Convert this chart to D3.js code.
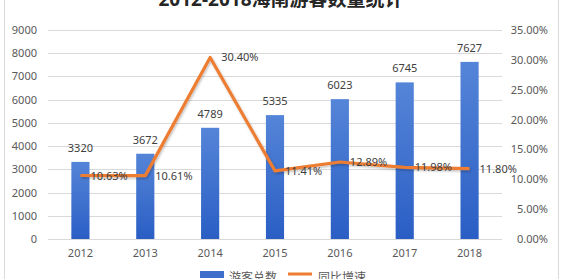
<!DOCTYPE html>
<html><head><meta charset="utf-8">
<script src="https://cdn.jsdelivr.net/npm/d3@7"></script>
<style>body{margin:0;background:#fff}svg{display:block}text{font-family:"Noto Sans","Noto Sans CJK SC",sans-serif}</style>
</head><body><svg id="c" width="567" height="279"></svg>
<script>
const years = ["2012","2013","2014","2015","2016","2017","2018"];
const visitors = [3320,3672,4789,5335,6023,6745,7627];
const growth = [10.63,10.61,30.40,11.41,12.89,11.98,11.80];
const leftTicks = [0,1000,2000,3000,4000,5000,6000,7000,8000,9000];
const rightTicks = [0,5,10,15,20,25,30,35];
const title = "2012-2018海南游客数量统计";
const legendNames = ["游客总数","同比增速"];

const svg = d3.select("#c");
const defs = svg.append("defs");
const g1 = defs.append("linearGradient").attr("id","bg").attr("x1",0).attr("y1",0).attr("x2",0).attr("y2",1);
g1.append("stop").attr("offset","0%").attr("stop-color","#5585d8");
g1.append("stop").attr("offset","100%").attr("stop-color","#2a5ec4");
const f = defs.append("filter").attr("id","sh").attr("x","-10%").attr("y","-10%").attr("width","120%").attr("height","130%");
f.append("feDropShadow").attr("dx",1).attr("dy",1.5).attr("stdDeviation",1).attr("flood-color","#000").attr("flood-opacity",0.25);

// border
svg.append("line").attr("x1",4.5).attr("x2",4.5).attr("y1",0).attr("y2",279).attr("stroke","#d9d9d9");
svg.append("line").attr("x1",558.5).attr("x2",558.5).attr("y1",0).attr("y2",279).attr("stroke","#d9d9d9");

const L=48,R=502,T=30,B=239;
const x = d3.scaleBand().domain(years).range([L,R]).paddingInner(0.72).paddingOuter(0.36);
const y = d3.scaleLinear().domain([0,9000]).range([B,T]);
const y2 = d3.scaleLinear().domain([0,35]).range([B,T]);

// gridlines
svg.append("g").selectAll("line").data(leftTicks).join("line")
  .attr("x1",L).attr("x2",R).attr("y1",d=>Math.round(y(d))+0.5).attr("y2",d=>Math.round(y(d))+0.5)
  .attr("stroke","#d9d9d9").attr("stroke-width",1);

// left axis
const la = svg.append("g").attr("transform",`translate(37,0)`)
  .call(d3.axisLeft(y).tickValues(leftTicks).tickSize(0).tickPadding(0).tickFormat(d3.format("d")));
la.select(".domain").remove();
la.selectAll("text").attr("fill","#595959").attr("font-size",11);

// right axis
const ra = svg.append("g").attr("transform",`translate(548,0)`)
  .call(d3.axisLeft(y2).tickValues(rightTicks).tickSize(0).tickPadding(0).tickFormat(d=>d.toFixed(2)+"%"));
ra.select(".domain").remove();
ra.selectAll("text").attr("fill","#595959").attr("font-size",11);

// x axis
const xa = svg.append("g").attr("transform",`translate(0,${B})`)
  .call(d3.axisBottom(x).tickSize(0).tickPadding(10));
xa.select(".domain").remove();
xa.selectAll("text").attr("fill","#595959").attr("font-size",11);

// bars
svg.append("g").selectAll("rect").data(visitors).join("rect")
  .attr("x",(d,i)=>x(years[i])).attr("width",x.bandwidth())
  .attr("y",d=>y(d)).attr("height",d=>B-y(d)).attr("fill","url(#bg)");
svg.append("g").selectAll("text").data(visitors).join("text")
  .attr("x",(d,i)=>x(years[i])+x.bandwidth()/2).attr("y",d=>y(d)-10)
  .attr("text-anchor","middle").attr("font-size",11).attr("fill","#404040").text(d=>d);

// line
const cx = i=>x(years[i])+x.bandwidth()/2;
const line = d3.line().x((d,i)=>cx(i)).y(d=>y2(d));
svg.append("path").datum(growth).attr("d",line).attr("fill","none")
  .attr("stroke","#ed7d31").attr("stroke-width",3.2).attr("stroke-linejoin","round").attr("filter","url(#sh)");
svg.append("g").selectAll("text").data(growth).join("text")
  .attr("x",(d,i)=>cx(i)+(i===2?11:10)).attr("y",(d,i)=>y2(d)+4)
  .attr("font-size",11).attr("fill","#404040").text(d=>d.toFixed(2)+"%");

// title
svg.append("text").attr("x",281).attr("y",6).attr("text-anchor","middle")
  .attr("font-size",19).attr("font-weight","bold").attr("fill","#262626").text(title);

// legend
const lg = svg.append("g");
lg.append("rect").attr("x",200).attr("y",271).attr("width",24).attr("height",7).attr("fill","#3f6fcc");
lg.append("text").attr("x",229).attr("y",282).attr("font-size",12).attr("fill","#595959").text(legendNames[0]);
lg.append("line").attr("x1",288).attr("x2",312).attr("y1",274).attr("y2",274).attr("stroke","#ed7d31").attr("stroke-width",3);
lg.append("text").attr("x",318).attr("y",282).attr("font-size",12).attr("fill","#595959").text(legendNames[1]);
</script></body></html>
